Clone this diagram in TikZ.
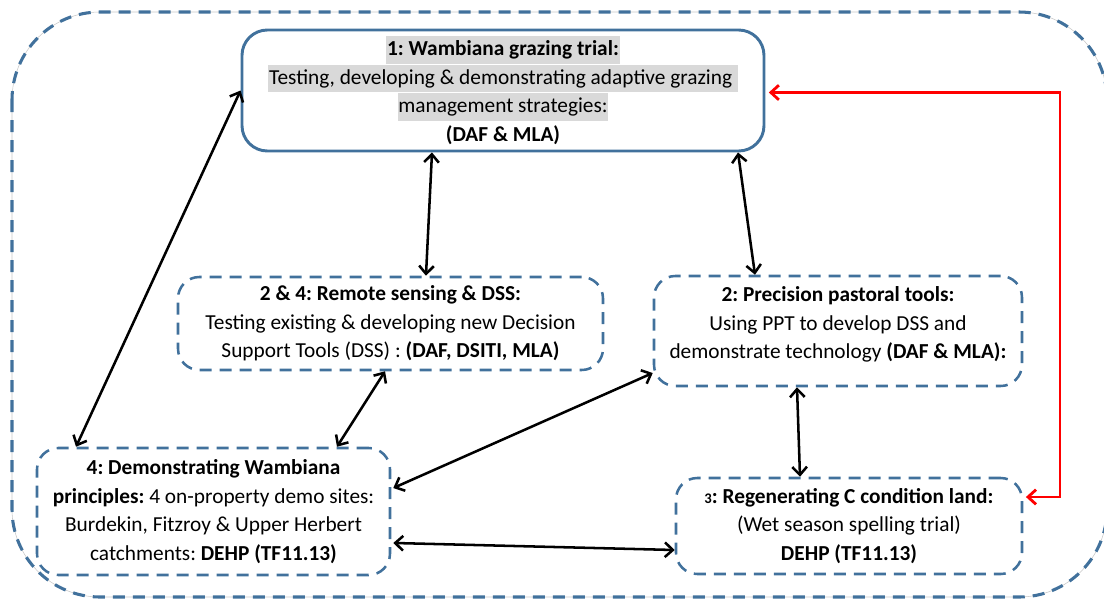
\documentclass[tikz,border=0pt]{standalone}
\usepackage{fontspec}
\setmainfont{Carlito}
\frenchspacing
\usetikzlibrary{arrows.meta,calc}
\definecolor{boxblue}{HTML}{41719C}
\definecolor{hlgray}{HTML}{D9D9D9}
\newcommand{\hlbox}[1]{{\setlength{\fboxsep}{0.5pt}\colorbox{hlgray}{\rule[-5.5pt]{0pt}{19.5pt}#1}}}
\tikzset{
  box/.style={draw=boxblue, align=center, inner sep=0pt,
    font=\fontsize{16}{21.4}\selectfont\frenchspacing},
  solidbox/.style={box, rounded corners=19pt, line width=2.2pt},
  dashbox/.style={box, rounded corners=16pt, line width=1.9pt, dash pattern=on 9pt off 6pt},
  conn/.style={line width=1.9pt, {Straight Barb[length=6pt,width=11pt]}-{Straight Barb[length=6pt,width=11pt]}},
  redconn/.style={conn, draw=red, line width=2.1pt},
}
\begin{document}
\begin{tikzpicture}[x=0.75pt,y=-0.75pt]
\useasboundingbox (0,0) rectangle (1104,601);
% outer frame
\draw[gray!45, line width=0.4pt, rounded corners=66pt] (12,12) rectangle (1107,597);
\draw[boxblue, line width=2.3pt, dash pattern=on 9pt off 6pt, rounded corners=66pt] (12,12) rectangle (1107,597);

% boxes
\node[solidbox, minimum width=391.5pt, minimum height=90.75pt] (b1) at (503,90.5)
  {\hlbox{\textbf{1: Wambiana grazing trial:}}\\
   \hlbox{Testing, developing \& demonstrating adaptive grazing\ }\\
   \hlbox{management strategies:}\\
   \textbf{(DAF \& MLA)}};
\node[dashbox, minimum width=318.75pt, minimum height=69.75pt] (b2) at (390.5,323.5)
  {\textbf{2 \& 4: Remote sensing \& DSS:}\\
   Testing existing \& developing new Decision\\
   Support Tools (DSS) : \textbf{(DAF, DSITI, MLA)}};
\node[dashbox, minimum width=276pt, minimum height=82.5pt] (b3) at (838,331)
  {\textbf{2: Precision pastoral tools:}\\
   Using PPT to develop DSS and\\
   demonstrate technology \textbf{(DAF \& MLA):}\\[-9pt]\mbox{}};
\node[dashbox, minimum width=264.75pt, minimum height=95.25pt] (b4) at (213.5,511.5)
  {\textbf{4: Demonstrating Wambiana}\\
   \textbf{principles:} 4 on-property demo sites:\\
   Burdekin, Fitzroy \& Upper Herbert\\
   catchments: \textbf{DEHP (TF11.13)}};
\node[dashbox, minimum width=259.5pt, minimum height=72pt] (b5) at (849,526)
  {\textbf{{\fontsize{11}{11}\selectfont 3}: Regenerating C condition land:}\\
   (Wet season spelling trial)\\
   \textbf{DEHP (TF11.13)}};

% black connectors
\draw[conn] (b1.west) -- ([xshift=-103.1pt]b4.north);
\draw[conn] ([xshift=-53.25pt]b1.south) -- ([xshift=26.6pt]b2.north);
\draw[conn] ([xshift=176.25pt]b1.south) -- ([xshift=-62.25pt]b3.north);
\draw[conn] ([xshift=-4.1pt]b2.south) -- ([xshift=92.6pt]b4.north);
\draw[conn] ([yshift=-31.5pt]b3.west) -- ([xshift=1.5pt,yshift=17.6pt]b4.east);
\draw[conn] ([xshift=1.5pt,yshift=-23.6pt]b4.east) -- ([yshift=-18pt]b5.west);
\draw[conn] ([xshift=-30.75pt]b3.south) -- ([xshift=-36.75pt]b5.north);

% red connector
\coordinate (r1) at ([xshift=2.5pt,yshift=-1.5pt]b1.east);
\coordinate (r2) at ([xshift=2pt,yshift=21.75pt]b5.east);
\coordinate (rc) at (1060,300);
\draw[redconn] (r1) -- (r1 -| rc) -- (rc |- r2) -- (r2);
\end{tikzpicture}
\end{document}
